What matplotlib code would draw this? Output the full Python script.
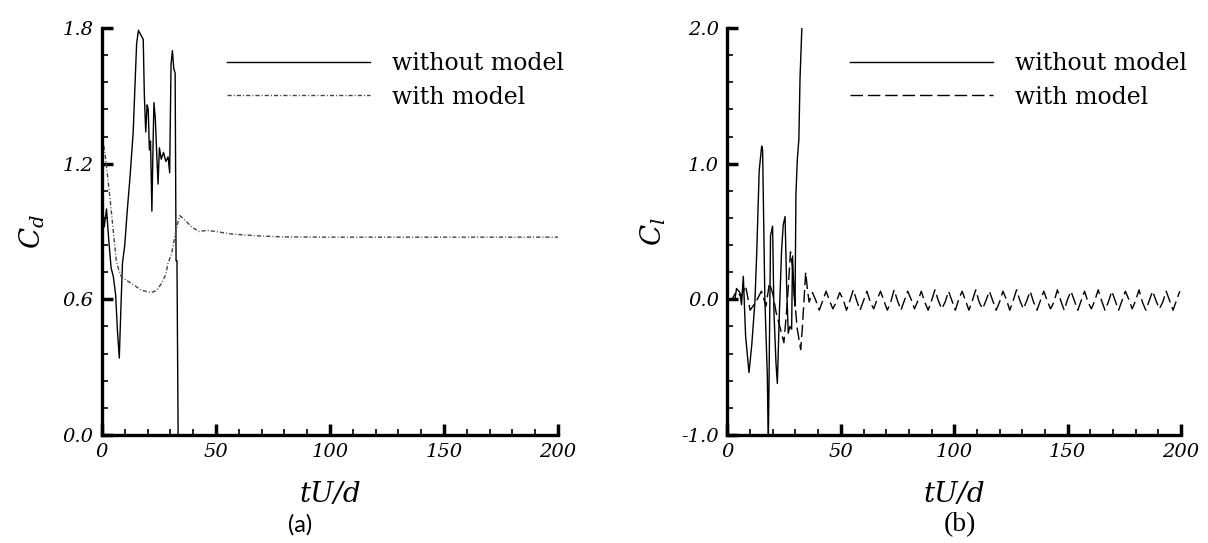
import numpy as np
import matplotlib
matplotlib.use('Agg')
import matplotlib.pyplot as plt
from matplotlib.ticker import MultipleLocator

plt.rcParams['mathtext.fontset'] = 'dejavuserif'
plt.rcParams['axes.unicode_minus'] = False

# ---- (a) drag coefficient ----
t_cd_nomodel = [0.0, 1.0, 2.0, 3.0, 4.0, 5.0, 6.0, 6.8, 7.6, 8.3, 9.0, 10.0, 11.0, 12.3,
                13.7, 14.5, 15.2, 16.0, 17.0, 18.1, 18.6, 19.2, 19.8, 20.3, 20.8, 21.3,
                21.9, 22.4, 22.8, 23.4, 24.0, 24.6, 25.2, 26.0, 27.0, 28.0, 29.0, 29.7,
                30.3, 30.9, 31.5, 32.1, 32.5, 32.9, 33.4, 33.9]
cd_nomodel = [1.05, 0.92, 1.00, 0.86, 0.74, 0.70, 0.62, 0.46, 0.34, 0.56, 0.76, 0.84, 0.98,
              1.14, 1.34, 1.55, 1.73, 1.79, 1.77, 1.75, 1.50, 1.34, 1.46, 1.44, 1.26, 1.30,
              0.99, 1.28, 1.47, 1.40, 1.25, 1.11, 1.27, 1.22, 1.25, 1.21, 1.23, 1.16, 1.64,
              1.70, 1.62, 1.60, 0.77, 0.77, 0.0, -0.1]

t_cd_model = [0.0, 1.3, 2.4, 3.5, 4.9, 6.3, 7.4, 8.5, 11.4, 14.5, 17.3, 21.7, 24.0, 26.1,
              28.0, 29.0, 30.5, 32.0, 33.0, 34.2, 36.5, 39.3, 42.5, 46.0, 50.0, 56.0, 62.0,
              70.0, 80.0, 100.0, 120.0, 150.0, 180.0, 200.0]
cd_model = [1.32, 1.25, 1.15, 1.05, 0.91, 0.77, 0.73, 0.70, 0.68, 0.66, 0.64, 0.63, 0.64,
            0.67, 0.71, 0.76, 0.80, 0.88, 0.93, 0.97, 0.95, 0.92, 0.90, 0.905, 0.90, 0.89,
            0.885, 0.88, 0.876, 0.875, 0.875, 0.875, 0.875, 0.875]

# ---- (b) lift coefficient ----
t_cl_nomodel = [0.0, 1.8, 3.3, 4.0, 5.5, 6.2, 7.0, 8.0, 9.5, 10.7, 12.1, 12.9, 14.0, 15.1,
                15.5, 16.5, 17.6, 18.0, 18.4, 19.0, 19.9, 20.5, 21.4, 22.0, 22.9, 23.9,
                24.6, 25.4, 26.1, 26.8, 27.5, 28.3, 28.7, 29.3, 29.8, 30.2, 30.8, 31.5,
                32.0, 32.7, 33.0]
cl_nomodel = [0.0, 0.0, 0.0, 0.08, 0.05, -0.04, 0.17, -0.27, -0.54, -0.34, -0.02, 0.34,
              0.95, 1.13, 1.10, 0.0, -0.57, -1.1, -0.5, 0.47, 0.54, -0.09, -0.47, -0.62,
              -0.10, 0.37, 0.55, 0.61, 0.10, -0.25, -0.20, -0.22, 0.32, 0.05, -0.05, 0.77,
              1.03, 1.18, 1.63, 1.95, 2.1]

t_cl_model_start = [0.0, 2.0, 4.0, 6.0, 8.0, 10.0, 12.5, 15.0, 17.0, 18.5, 20.0, 21.5,
                    23.4, 24.9, 26.4, 27.8, 28.6, 29.3, 30.0, 30.8, 32.3, 33.0, 34.5, 35.3]
cl_model_start = [0.0, 0.0, 0.06, 0.02, 0.10, -0.08, -0.02, 0.06, -0.05, 0.12, 0.04, -0.10,
                  -0.22, -0.32, -0.02, 0.35, 0.25, 0.10, -0.07, -0.22, -0.37, -0.22, 0.20,
                  0.07]
# shedding part, sampled every 1.5 time units from t = 36
cl_model_osc = [
    -0.02, 0.05, -0.01, -0.08, -0.01, 0.06, -0.01, -0.07,
    -0.02, 0.05, 0.00, -0.08, -0.01, 0.07, -0.01, -0.08,
    -0.01, 0.06, -0.02, -0.07, 0.00, 0.06, -0.01, -0.08,
    -0.02, 0.07, -0.01, -0.08, -0.01, 0.06, 0.00, -0.07,
    -0.01, 0.06, -0.02, -0.08, -0.01, 0.07, -0.01, -0.07,
    -0.02, 0.06, -0.01, -0.08, 0.00, 0.06, -0.01, -0.08,
    -0.01, 0.07, -0.02, -0.07, -0.01, 0.06, -0.01, -0.08,
    -0.02, 0.06, 0.00, -0.08, -0.01, 0.07, -0.01, -0.07,
    -0.01, 0.06, -0.02, -0.08, -0.01, 0.06, -0.01, -0.07,
    -0.02, 0.07, -0.01, -0.08, 0.00, 0.06, -0.01, -0.08,
    -0.01, 0.06, -0.02, -0.07, -0.01, 0.07, -0.01, -0.08,
    -0.02, 0.06, -0.01, -0.08, -0.01, 0.06, 0.00, -0.07,
    -0.01, 0.07, -0.02, -0.08, -0.01, 0.06, -0.01, -0.07,
    -0.02, 0.06, -0.01, -0.08, -0.01, 0.06]
t_cl_model_osc = 36.0 + 1.5 * np.arange(len(cl_model_osc))

x_ticks = [0, 50, 100, 150, 200]
x_labels = ['0', '50', '100', '150', '200']
cd_ticks = [0.0, 0.6, 1.2, 1.8]
cd_labels = ['0.0', '0.6', '1.2', '1.8']
cl_ticks = [-1.0, 0.0, 1.0, 2.0]
cl_labels = ['-1.0', '0.0', '1.0', '2.0']
legend_labels = ['without model', 'with model']

fig = plt.figure(figsize=(12.08, 5.43), dpi=100)
ax1 = fig.add_axes([0.0844, 0.1989, 0.3775, 0.7495])
ax2 = fig.add_axes([0.6022, 0.1989, 0.3754, 0.7495])


def style_axes(ax, yticks, ylabels, ylim, yminor, ylabel, ylabel_x):
    for s in ['top', 'right']:
        ax.spines[s].set_visible(False)
    for s in ['left', 'bottom']:
        ax.spines[s].set_linewidth(2.4)
    ax.set_xlim(0, 200)
    ax.set_ylim(*ylim)
    ax.set_xticks(x_ticks, labels=x_labels)
    ax.set_yticks(yticks, labels=ylabels)
    ax.xaxis.set_minor_locator(MultipleLocator(10))
    ax.yaxis.set_minor_locator(MultipleLocator(yminor))
    ax.tick_params(which='both', direction='in', top=False, right=False)
    ax.tick_params(which='major', length=8, width=2.5, pad=6)
    ax.tick_params(which='minor', length=4.5, width=1.2)
    for lbl in ax.get_xticklabels() + ax.get_yticklabels():
        lbl.set_fontfamily('DejaVu Serif')
        lbl.set_fontstyle('italic')
        lbl.set_fontsize(14)
    ax.set_xlabel('tU/d', family='DejaVu Serif', style='italic', fontsize=20)
    ax.xaxis.set_label_coords(0.5, -0.113)
    ax.set_ylabel(ylabel, fontsize=20)
    ax.yaxis.set_label_coords(ylabel_x, 0.5)


# (a)
ax1.plot(t_cd_nomodel, cd_nomodel, color='black', lw=1.0, label=legend_labels[0])
ax1.plot(t_cd_model, cd_model, color='#444444', lw=1.0,
         dashes=(3, 1.5, 0.7, 1.5), label=legend_labels[1])
style_axes(ax1, cd_ticks, cd_labels, (0, 1.8), 0.12, r'$C_d$', -0.12)

# (b)
ax2.plot(t_cl_nomodel, cl_nomodel, color='black', lw=1.0, label=legend_labels[0])
ax2.plot(list(t_cl_model_start) + list(t_cl_model_osc),
         cl_model_start + cl_model_osc, color='black', lw=1.0,
         dashes=(9, 3.5), label=legend_labels[1])
style_axes(ax2, cl_ticks, cl_labels, (-1.0, 2.0), 0.2, r'$C_l$', -0.131)

for ax, lx in [(ax1, 0.274), (ax2, 0.270)]:
    ax.legend(loc='upper left', bbox_to_anchor=(lx, 0.941), frameon=False,
              borderpad=0, borderaxespad=0, handlelength=6.05,
              handletextpad=0.93, labelspacing=0.45,
              prop={'family': 'DejaVu Serif', 'size': 17})

fig.text(300 / 1208, 1 - 525 / 543, '(a)', ha='center', va='center',
         family='Lato', fontsize=17)
fig.text(960 / 1208, 1 - 525 / 543, '(b)', ha='center', va='center',
         family='Liberation Serif', fontsize=20)

fig.savefig('out.png', dpi=100)
